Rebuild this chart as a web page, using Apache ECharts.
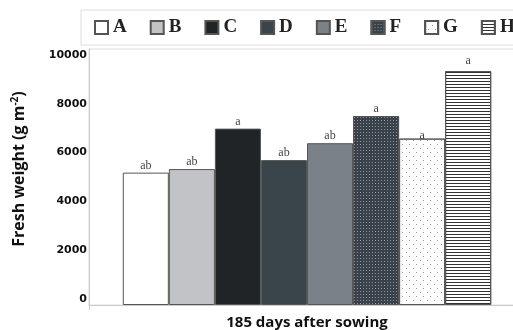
<!DOCTYPE html>
<html><head><meta charset="utf-8">
<script src="https://cdn.jsdelivr.net/npm/echarts@6/dist/echarts.min.js"></script>
<style>html,body{margin:0;padding:0;background:#fff}#c{width:513px;height:330px}</style>
</head><body><div id="c"></div>
<script>
const categories = ['185 days after sowing'];
const seriesNames = ['A','B','C','D','E','F','G','H'];
const values = [5170, 5310, 6890, 5660, 6320, 7380, 6500, 9140];
const letters = ['ab','ab','a','ab','ab','a','a','a'];
const yTicks = [0, 2000, 4000, 6000, 8000, 10000];

const fills = ['#ffffff','#c2c3c7','#212427','#3a444b','#7a8288','#39424a','#ffffff','#ffffff'];
const decals = [null, null, null, null, null,
  {symbol:'rect', symbolSize:1, dashArrayX:[1,2], dashArrayY:[1,2], color:'#8e959b'},
  {symbol:'rect', symbolSize:1, dashArrayX:[[1,6],[0,3,1,3]], dashArrayY:[1,3], color:'#9a9a9a'},
  {symbol:'rect', symbolSize:1, dashArrayX:[1,0], dashArrayY:[1,2], color:'#333333'}];
const labelOffsets = [[0,0],[0,0],[0,0],[0,0],[0,0],[0,0],[0,4],[0,-3]];

const chart = echarts.init(document.getElementById('c'));
const series = seriesNames.map((n,i)=>({
  name:n, type:'bar', barGap:'0%', barCategoryGap:'15.5%',
  data:[values[i]],
  itemStyle:{color:fills[i], borderColor:'#555', borderWidth:1, decal:decals[i] || undefined},
  label:{show:true, position:'top', distance:1, offset:labelOffsets[i],
    formatter:()=>letters[i], fontFamily:'Liberation Serif', fontSize:12, color:'#444'}
}));
chart.setOption({
  animation:false,
  legend:{
    left:81, top:10, width:480, padding:[8,30,8,13],
    borderColor:'#dddddd', borderWidth:1,
    itemWidth:13, itemHeight:13, itemGap:23, icon:'rect',
    textStyle:{fontFamily:'Liberation Serif', fontWeight:'bold', fontSize:19, color:'#222', lineHeight:19},
    data:seriesNames
  },
  grid:{left:89, width:436, top:49, bottom:25, outerBoundsMode:'none', containLabel:false,
    show:true, borderColor:'#dddddd', borderWidth:1, backgroundColor:'transparent'},
  xAxis:{type:'category', data:categories,
    axisLine:{lineStyle:{color:'#cccccc'}},
    axisTick:{show:true, length:5, lineStyle:{color:'#cccccc'}},
    axisLabel:{margin:10, fontFamily:'Open Sans', fontWeight:'bold', fontSize:15, color:'#111'}},
  yAxis:[
    {type:'value', min:0, max:10000, splitLine:{show:false},
     axisLine:{show:true, lineStyle:{color:'#cccccc'}}, axisTick:{show:false}, axisLabel:{show:false},
     name:'Fresh weight (g m{sup|-2})', nameLocation:'middle', nameGap:60,
     nameTextStyle:{fontFamily:'Open Sans', fontWeight:'bold', fontSize:16, color:'#111', padding:[0,0,0,16],
       rich:{sup:{fontFamily:'Open Sans', fontWeight:'bold', fontSize:10, color:'#111', padding:[0,0,9,0]}}}},
    {type:'value', min:-240, max:10240, position:'left', splitLine:{show:false},
     axisLine:{show:false}, axisTick:{show:false},
     axisLabel:{customValues:yTicks, margin:2, formatter:v=>String(v), fontFamily:'DejaVu Sans', fontWeight:'bold', fontSize:11, color:'#111'}}
  ],
  series:series
});
</script></body></html>
